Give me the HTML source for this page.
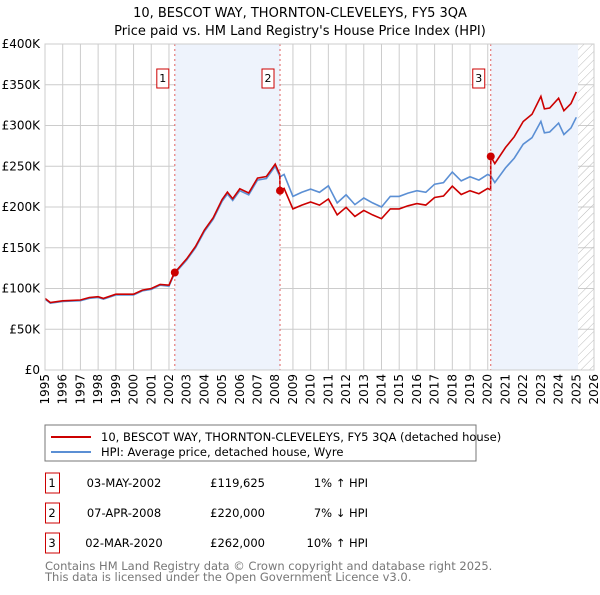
<!DOCTYPE html>
<html><head><meta charset="utf-8"><style>
body{margin:0;background:#fff;font-family:"Liberation Sans","DejaVu Sans",sans-serif;}
svg text{font-family:"DejaVu Sans","Liberation Sans",sans-serif;}
</style></head><body>
<svg id="c" width="600" height="590" xmlns="http://www.w3.org/2000/svg">
<defs><pattern id="hatch" width="6" height="6" patternUnits="userSpaceOnUse" patternTransform="rotate(45)"><line x1="0" y1="0" x2="0" y2="6" stroke="#bbb" stroke-width="1"/></pattern></defs>
<text x="300" y="17" text-anchor="middle" font-size="13">10, BESCOT WAY, THORNTON-CLEVELEYS, FY5 3QA</text>
<text x="300" y="35" text-anchor="middle" font-size="13">Price paid vs. HM Land Registry's House Price Index (HPI)</text>
<g id="grid"></g><g id="shade"></g><g id="series"></g><g id="axes"></g>
<rect x="45" y="425" width="431" height="36" fill="#fff" stroke="#777"/>
<line x1="51" y1="437" x2="91" y2="437" stroke="#cc0000" stroke-width="2"/>
<text x="101" y="441" font-size="11.5">10, BESCOT WAY, THORNTON-CLEVELEYS, FY5 3QA (detached house)</text>
<line x1="51" y1="452" x2="91" y2="452" stroke="#5b8fd4" stroke-width="2"/>
<text x="101" y="456" font-size="11.5">HPI: Average price, detached house, Wyre</text>
<g id="table" font-size="11.5"></g>
<text x="45" y="570" font-size="11.5" fill="#777">Contains HM Land Registry data © Crown copyright and database right 2025.</text>
<text x="45" y="581" font-size="11.5" fill="#777">This data is licensed under the Open Government Licence v3.0.</text>
</svg>
<script>
const hpiYears=[1995,1995.3,1996,1997,1997.5,1998,1998.3,1999,2000,2000.5,2001,2001.5,2002,2002.2,2002.33,2003,2003.5,2004,2004.5,2005,2005.3,2005.6,2006,2006.5,2007,2007.5,2008,2008.27,2008.5,2009,2009.5,2010,2010.5,2011,2011.5,2012,2012.5,2013,2013.5,2014,2014.5,2015,2015.5,2016,2016.5,2017,2017.5,2018,2018.5,2019,2019.5,2020,2020.17,2020.4,2021,2021.5,2022,2022.5,2023,2023.2,2023.5,2024,2024.3,2024.7,2025];
const hpiValues=[87,82,84,85,88,89,87,92,92,97,99,104,103,113,118.4,135,150,170,185,207,216,208,220,215,233,235,250,237,240,213,218,222,218,226,205,215,203,211,205,200,213,213,217,220,218,228,230,243,232,237,233,240,238,230,248,260,277,285,305,291,292,303,289,297,310];
const saleDates=[2002.33,2008.27,2020.17];
const salePrices=[119625,220000,262000];
const saleLabels=["1","2","3"];
const saleDateText=["03-MAY-2002","07-APR-2008","02-MAR-2020"];
const salePriceText=["£119,625","£220,000","£262,000"];
const saleHpiText=["1% ↑ HPI","7% ↓ HPI","10% ↑ HPI"];
const yTicks=[0,50,100,150,200,250,300,350,400];
const xStart=1995,xEnd=2026;
const X0=45,X1=594,Y0=370,Y1=44;
const sx=v=>X0+(v-xStart)/(xEnd-xStart)*(X1-X0);
const sy=v=>Y0-v/400*(Y0-Y1);
const NS="http://www.w3.org/2000/svg";
function mk(p,t,a){const e=document.createElementNS(NS,t);for(const k in a)e.setAttribute(k,a[k]);document.getElementById(p).appendChild(e);return e;}
const endData=2025.1;
[0,2].forEach((i,j)=>{const r=mk('shade','rect',{x:sx(saleDates[i]),y:Y1,width:sx(j?endData:saleDates[1])-sx(saleDates[i]),height:Y0-Y1,fill:'#eef3fc'});

});
const h=mk('shade','rect',{x:sx(endData),y:Y1,width:X1-sx(endData),height:Y0-Y1,fill:'url(#hatch)'});


yTicks.forEach(t=>{const l=mk('grid','line',{x1:X0,x2:X1,y1:sy(t),y2:sy(t),stroke:'#ccc'});


const tx=mk('axes','text',{x:X0-5,y:sy(t)+4,'text-anchor':'end','font-size':'12'});tx.textContent=t?'£'+t+'K':'£0';

});
for(let y=xStart;y<=xEnd;y++){const l=mk('grid','line',{x1:sx(y),x2:sx(y),y1:Y1,y2:Y0,stroke:'#ccc'});


const px=sx(y)+4,py=Y0+4;
const tx=mk('axes','text',{x:px,y:py,'text-anchor':'end','font-size':'12',transform:'rotate(-90 '+px+' '+py+')'});tx.textContent=y;

}
function hpiAt(t){for(let i=0;i<hpiYears.length-1;i++){if(t<=hpiYears[i+1]){const f=(t-hpiYears[i])/(hpiYears[i+1]-hpiYears[i]);return hpiValues[i]+f*(hpiValues[i+1]-hpiValues[i]);}}return hpiValues[hpiValues.length-1];}
const hp=mk('series','path',{d:hpiYears.map((t,i)=>(i?'L':'M')+sx(t).toFixed(1)+','+sy(hpiValues[i]).toFixed(1)).join(''),fill:'none',stroke:'#5b8fd4','stroke-width':1.6});


let pts=[];const r0=salePrices[0]/1000/hpiAt(saleDates[0]);
hpiYears.forEach((t,i)=>{let k=0;while(k<saleDates.length-1&&t>=saleDates[k+1])k++;
let ratio=t<saleDates[0]?r0:salePrices[k]/1000/hpiAt(saleDates[k]);pts.push([t,hpiValues[i]*ratio]);});
for(let k=1;k<saleDates.length;k++){const t=saleDates[k]-0.01;pts.push([t,hpiAt(t)*salePrices[k-1]/1000/hpiAt(saleDates[k-1])]);}
pts.sort((a,b)=>a[0]-b[0]);
const pp=mk('series','path',{d:pts.map((p,i)=>(i?'L':'M')+sx(p[0]).toFixed(1)+','+sy(p[1]).toFixed(1)).join(''),fill:'none',stroke:'#cc0000','stroke-width':1.6});


saleDates.forEach((d,i)=>{const l=mk('series','line',{x1:sx(d),x2:sx(d),y1:Y1,y2:Y0,stroke:'#e06060','stroke-dasharray':'2,3'});


const c=mk('series','circle',{cx:sx(d),cy:sy(salePrices[i]/1000),r:4,fill:'#cc0000'});


const b=mk('series','rect',{x:sx(d)-18,y:69,width:12,height:19,fill:'#fff',stroke:'#cc0000'});


const t=mk('series','text',{x:sx(d)-12,y:82,'text-anchor':'middle','font-size':'11'});t.textContent=saleLabels[i];


const yy=[483,513,543][i];
const tb=mk('table','rect',{x:45.5,y:yy-10,width:14,height:20,fill:'#fff',stroke:'#cc0000'});


[[52,'middle',saleLabels[i],'table-row-number'],[124,'middle',saleDateText[i],'table-date'],[265,'end',salePriceText[i],'table-price'],[368,'end',saleHpiText[i],'table-hpi-change']].forEach(c=>{const e=mk('table','text',{x:c[0],y:yy+4,'text-anchor':c[1]});e.textContent=c[2];

});
});
const ax=mk('axes','rect',{x:X0,y:Y1,width:X1-X0,height:Y0-Y1,fill:'none',stroke:'#ccc'});


</script>
</body></html>
